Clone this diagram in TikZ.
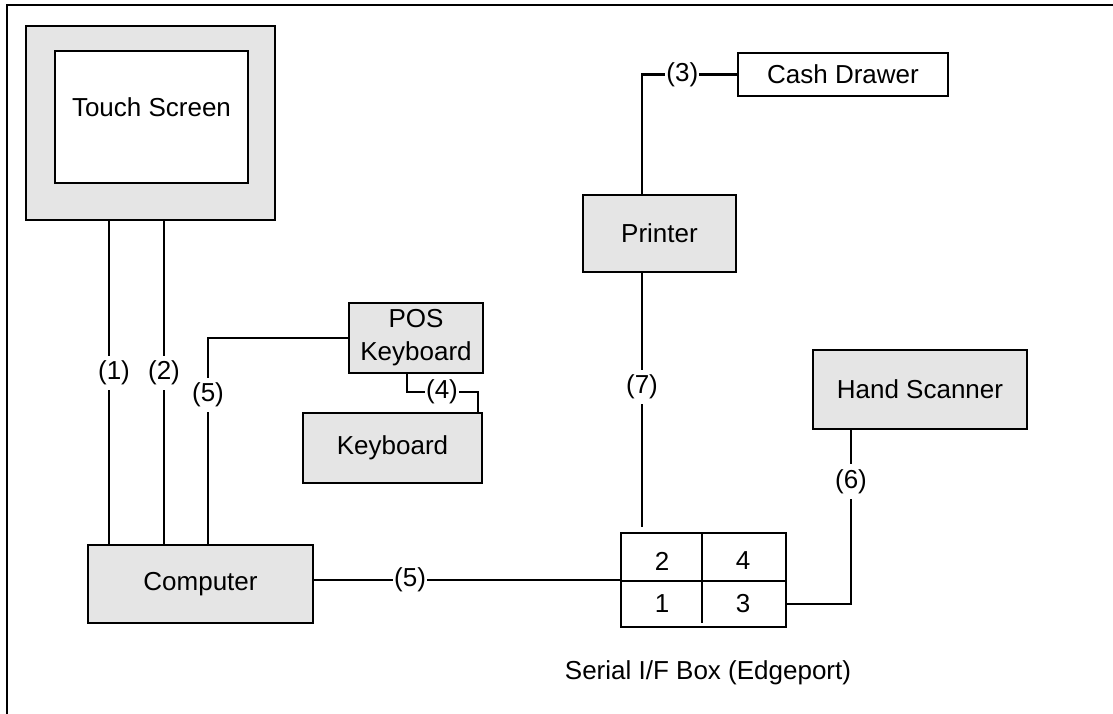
\documentclass[tikz,border=0pt]{standalone}
\usepackage{fontspec}
\setmainfont{Liberation Sans}
\begin{document}
\begin{tikzpicture}[x=1pt,y=-1pt,
  box/.style={draw, line width=2.8pt, fill=boxgray, inner sep=0pt, outer sep=0pt, align=center},
  wbox/.style={box, fill=white},
  lbl/.style={fill=white, inner xsep=1pt, inner ysep=5pt},
  conn/.style={line width=2.6pt},
  every node/.append style={font=\fontsize{26}{32}\selectfont}]
\definecolor{boxgray}{HTML}{E5E5E5}
\useasboundingbox (0,0) rectangle (1113,714);
% outer frame
\coordinate (fbl) at (7,714);
\coordinate (ftl) at (7,5);
\coordinate (ftr) at (1113,5);
\draw[line width=2.8pt] (fbl) -- (ftl) -- (ftr);
% nodes
\node[box, minimum width=249pt, minimum height=194pt] (ts) at (150.5,123) {};
\node[wbox, minimum width=193pt, minimum height=132pt] (tsin) at (151.5,117) {};
\node (tstext) at (151.5,107) {Touch Screen};
\node[box, minimum width=225pt, minimum height=78pt] (comp) at (200.5,584) {Computer};
\node[box, minimum width=134pt, minimum height=70pt] (pos) at (416,338) {POS\\[1pt]Keyboard};
\node[box, minimum width=179pt, minimum height=70pt] (kb) at (392.5,448) {Keyboard};
\node[box, minimum width=153pt, minimum height=77pt] (prn) at (659.5,233.5) {Printer};
\node[wbox, minimum width=210pt, minimum height=43pt] (cash) at (843,74.5) {Cash Drawer};
\node[box, minimum width=214pt, minimum height=79pt] (scan) at (920,389.5) {Hand Scanner};
\node[wbox, minimum width=165pt, minimum height=94pt] (serial) at (703.5,580) {};
\coordinate (smid) at (702,581);
\coordinate (sdiv) at (702,623);
\draw[line width=2.8pt] (serial.west |- smid) -- (serial.east |- smid);
\draw[line width=2.8pt] (serial.north -| smid) -- (sdiv);
\node (s2) at (662,561) {2};
\node (s4) at (743,561) {4};
\node (s1) at (662,604) {1};
\node (s3) at (743,604) {3};
\node (slabel) at (708,673) {Serial I/F Box (Edgeport)};
% connector x positions
\coordinate (x1) at (109,0);
\coordinate (x2) at (164,0);
\coordinate (x5) at (208,0);
\coordinate (x7) at (642,0);
\coordinate (x6) at (851,0);
\coordinate (k1) at (407,392);
\coordinate (k2) at (478,392);
% connectors
\draw[conn] (ts.south -| x1) -- (comp.north -| x1);
\node[lbl] (l1) at (114,373) {(1)};
\draw[conn] (ts.south -| x2) -- (comp.north -| x2);
\node[lbl] (l2) at (164,373) {(2)};
\draw[conn] (comp.north -| x5) |- (pos.west);
\node[lbl] (l5a) at (208,395) {(5)};
\draw[conn] (pos.south -| k1) -- (k1) -- (k2) -- (kb.north -| k2);
\node[lbl, inner ysep=1pt] (l4) at (442,392) {(4)};
\draw[conn] (comp.east |- serial.west) -- node[lbl, pos=0.315, inner ysep=1pt] (l5b) {(5)} (serial.west);
\draw[conn, shorten >=6pt] (prn.south -| x7) -- node[lbl, pos=0.44] (l7) {(7)} (serial.north -| x7);
\draw[conn] (prn.north -| x7) |- node[lbl, pos=0.71, inner ysep=1pt] (l3) {(3)} (cash.west);
\draw[conn] (scan.south -| x6) |- node[lbl, pos=0.15] (l6) {(6)} (serial.east |- s3);
\end{tikzpicture}
\end{document}
